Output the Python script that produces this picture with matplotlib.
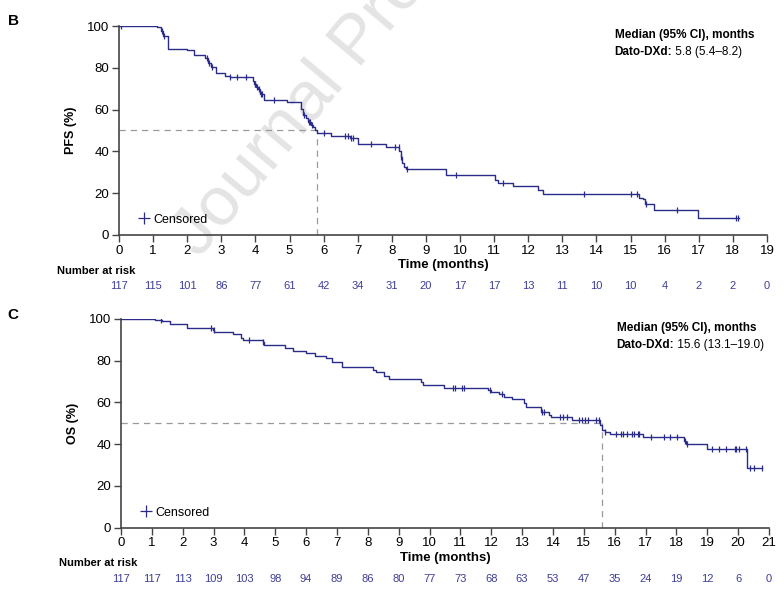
import numpy as np
import matplotlib
matplotlib.use("Agg")
import matplotlib.pyplot as plt
from matplotlib.lines import Line2D

plt.rcParams['font.family'] = ['Liberation Sans Narrow', 'Liberation Sans', 'DejaVu Sans']

LINE = '#2b2b8a'
RISK = '#3d3d99'
SANS = ['Liberation Sans', 'DejaVu Sans']

# PFS (panel B)
pfs_t = [0, 1.10, 1.22, 1.30, 1.44, 2.00, 2.20, 2.53, 2.62, 2.70, 2.85, 3.10, 3.24,
         3.92, 3.97, 4.02, 4.08, 4.13, 4.26, 4.92, 5.33, 5.40, 5.47, 5.55, 5.62,
         5.70, 5.76, 5.82, 6.22, 6.78, 7.00, 7.83, 8.22, 8.26, 8.31, 8.36, 8.42,
         9.60, 11.03, 11.10, 11.54, 12.30, 12.42, 15.25, 15.35, 15.42, 15.69, 16.98]
pfs_s = [100, 99.4, 97.5, 95.4, 89.2, 88.5, 86.3, 84.5, 82.5, 80.5, 77.5, 76.2, 75.4,
         73.5, 72.3, 71.0, 69.8, 67.5, 64.6, 63.5, 60.5, 57.5, 55.8, 54.0, 52.8,
         51.5, 50.2, 49.0, 47.4, 46.6, 43.5, 42.3, 40.0, 37.5, 34.3, 32.6, 31.6,
         28.6, 26.3, 25.0, 23.4, 21.5, 19.6, 17.9, 17.0, 14.7, 12.0, 8.0]
pfs_end = 18.18
pfs_cens = [0.05, 1.27, 1.33, 2.58, 2.63, 2.72, 3.26, 3.45, 3.72, 3.98, 4.00, 4.05,
            4.10, 4.15, 4.18, 4.55, 5.42, 5.57, 5.60, 5.65, 6.00, 6.63, 6.71, 6.80,
            6.86, 7.40, 8.10, 8.20, 8.28, 8.45, 9.88, 11.27, 13.64, 15.00, 15.20,
            15.44, 16.37, 18.08, 18.15]
pfs_median = 5.8
pfs_risk = [117, 115, 101, 86, 77, 61, 42, 34, 31, 20, 17, 17, 13, 11, 10, 10, 4, 2, 2, 0]

# OS (panel C)
os_t = [0, 1.10, 1.32, 1.58, 2.15, 2.98, 3.03, 3.62, 3.89, 3.97, 4.59, 4.65, 5.32,
        5.56, 5.99, 6.29, 6.63, 6.85, 7.15, 8.16, 8.25, 8.52, 8.68, 9.73, 9.80,
        10.46, 11.90, 11.98, 12.25, 12.40, 12.68, 13.06, 13.12, 13.60, 13.87, 13.93,
        14.62, 15.54, 15.60, 15.68, 15.86, 16.91, 18.24, 18.31, 19.00, 20.29]
os_s = [100, 99.4, 98.9, 97.3, 95.7, 94.6, 93.5, 92.5, 91.0, 89.8, 88.7, 87.4, 85.8,
        84.5, 83.4, 82.3, 81.0, 79.4, 76.9, 75.4, 74.6, 72.7, 71.0, 69.8, 68.3,
        66.7, 65.9, 65.1, 64.0, 62.7, 61.4, 59.5, 57.8, 55.6, 54.0, 52.9,
        51.7, 49.3, 46.9, 45.8, 45.0, 43.4, 41.3, 40.2, 37.7, 28.4]
os_end = 20.78
os_cens = [1.31, 2.92, 3.00, 4.16, 4.60, 10.76, 10.84, 11.04, 11.11, 11.95, 12.35,
           13.65, 13.72, 14.24, 14.32, 14.46, 14.84, 14.95, 15.05, 15.14, 15.40,
           15.49, 15.70, 16.03, 16.19, 16.26, 16.40, 16.57, 16.62, 16.76, 16.80,
           17.19, 17.59, 17.80, 18.02, 18.27, 18.35, 19.16, 19.37, 19.61, 19.89,
           19.93, 20.02, 20.26, 20.40, 20.50, 20.78]
os_median = 15.6
os_risk = [117, 117, 113, 109, 103, 98, 94, 89, 86, 80, 77, 73, 68, 63, 53, 47, 35, 24, 19, 12, 6, 0]


def km_panel(ax, t, s, t_end, cens, median, risk, ylabel, med_text):
    xmax = len(risk) - 1
    tt = list(t) + [t_end]
    ss = list(s) + [s[-1]]
    ax.step(tt, ss, where='post', color=LINE, lw=1.0, zorder=3)
    idx = np.searchsorted(t, cens, side='right') - 1
    cy = np.array(s)[idx]
    ax.plot(cens, cy, ls='none', marker='|', ms=5, mew=0.9, color=LINE, zorder=4)

    ax.plot([0, median], [50, 50], ls=(0, (5, 4)), color='#9a9a9a', lw=0.9, zorder=2)
    ax.plot([median, median], [0, 50], ls=(0, (5, 4)), color='#9a9a9a', lw=0.9, zorder=2)

    ax.set_xlim(0, xmax)
    ax.set_ylim(0, 100)
    ax.set_xticks(range(xmax + 1))
    ax.set_yticks(range(0, 101, 20))
    for sp in ['top', 'right']:
        ax.spines[sp].set_visible(False)
    for sp in ['left', 'bottom']:
        ax.spines[sp].set_linewidth(1.2)
        ax.spines[sp].set_color('#444444')
    ax.tick_params(direction='out', length=5, width=1, color='#444444',
                   labelsize=9.5, pad=2)
    ax.set_ylabel(ylabel, fontsize=9, fontweight='bold', labelpad=7, family=SANS)
    ax.set_xlabel('Time (months)', fontsize=9.5, fontweight='bold', labelpad=2)
    ax.patch.set_alpha(0)

    h = Line2D([], [], color=LINE, marker='+', ls='none', ms=8, mew=0.9)
    ax.legend([h], ['Censored'], loc='lower left', bbox_to_anchor=(0.01, -0.01),
              frameon=False, handletextpad=0.1, handlelength=1.2,
              prop={'family': SANS, 'size': 9})

    ax.text(0.765, 0.985, 'Median (95% CI), months', transform=ax.transAxes,
            fontsize=8.5, fontweight='bold', va='top', family=SANS)
    lab = ax.text(0.765, 0.905, 'Dato-DXd:', transform=ax.transAxes,
                  fontsize=8.5, fontweight='bold', va='top', family=SANS)
    ax.annotate(' ' + med_text, xy=(1, 0), xycoords=lab, va='bottom', ha='left',
                fontsize=8.5, family=SANS)

    trans = ax.get_xaxis_transform()
    for i, n in enumerate(risk):
        ax.text(i, -0.245, str(n), transform=trans, ha='center', va='center',
                fontsize=8, color=RISK)
    ax.text(-0.095, -0.17, 'Number at risk', transform=ax.transAxes,
            ha='left', va='center', fontsize=8, fontweight='bold')


fig = plt.figure(figsize=(7.84, 5.91), dpi=100)
ax1 = fig.add_axes([0.1518, 0.6024, 0.8265, 0.3536])
ax2 = fig.add_axes([0.1543, 0.1071, 0.8265, 0.3536])

km_panel(ax1, pfs_t, pfs_s, pfs_end, pfs_cens, pfs_median, pfs_risk,
         'PFS (%)', '5.8 (5.4\u20138.2)')
km_panel(ax2, os_t, os_s, os_end, os_cens, os_median, os_risk,
         'OS (%)', '15.6 (13.1\u201319.0)')

fig.text(0.010, 0.965, 'B', fontsize=11, fontweight='bold', va='center', family=SANS)
fig.text(0.010, 0.467, 'C', fontsize=11, fontweight='bold', va='center', family=SANS)

fig.text(0.254, 0.562, 'Journal Pre-proof', fontsize=50, color='#e4e4e4',
         rotation=50, rotation_mode='anchor', ha='left', va='baseline',
         family=SANS, zorder=-1)

fig.savefig('out.png', dpi=100)
